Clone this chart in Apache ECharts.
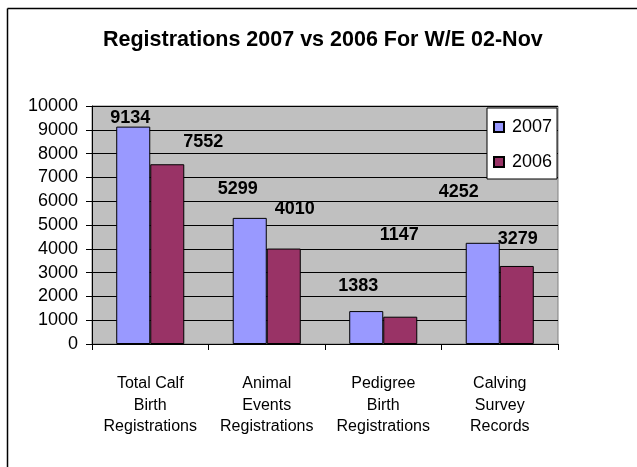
<!DOCTYPE html>
<html>
<head>
<meta charset="utf-8">
<script src="https://cdn.jsdelivr.net/npm/echarts@6/dist/echarts.min.js"></script>
<style>
html,body{margin:0;padding:0;background:#fff;}
#c{width:637px;height:467px;}
</style>
</head>
<body>
<div id="c"></div>
<script>
var titleText = 'Registrations 2007 vs 2006 For W/E 02-Nov';
var categories = ['Total Calf\nBirth\nRegistrations', 'Animal\nEvents\nRegistrations', 'Pedigree\nBirth\nRegistrations', 'Calving\nSurvey\nRecords'];
var seriesNames = ['2007', '2006'];
var values2007 = [9134, 5299, 1383, 4252];
var values2006 = [7552, 4010, 1147, 3279];
var yTicks = {min: 0, max: 10000, interval: 1000};
// label placement offsets (style only, in pixels)
var labelOffsets2007 = [[-3, 0], [-12, -20], [-8, -16.5], [-24, -42]];
var labelOffsets2006 = [[36, -13], [11, -30.6], [-1, -72.7], [1, -17.5]];

var FONT = "'Liberation Sans', Arial, Helvetica, sans-serif";
var chart = echarts.init(document.getElementById('c'), null, {renderer: 'canvas'});

function buildData(vals, offs) {
  return vals.map(function (v, i) {
    return {value: v, label: {offset: offs[i]}};
  });
}

var option = {
  animation: false,
  backgroundColor: '#ffffff',
  title: {
    text: titleText,
    left: 103,
    top: 29,
    padding: 0,
    textStyle: {fontFamily: FONT, fontSize: 21.5, fontWeight: 'bold', color: '#000', lineHeight: 22}
  },
  graphic: [
    {type: 'line', shape: {x1: 7.5, y1: 8.5, x2: 637, y2: 8.5}, style: {stroke: '#000', lineWidth: 1.5}, z: 100},
    {type: 'line', shape: {x1: 7.5, y1: 8.5, x2: 7.5, y2: 467}, style: {stroke: '#000', lineWidth: 1.5}, z: 100}
  ],
  legend: {
    orient: 'vertical',
    left: 487,
    top: 108,
    padding: [10, 5, 8, 6],
    itemGap: 17,
    itemWidth: 10,
    itemHeight: 10,
    icon: 'rect',
    backgroundColor: '#ffffff',
    borderColor: '#000',
    borderWidth: 1,
    borderRadius: 0,
    textStyle: {fontFamily: FONT, fontSize: 18, color: '#000', lineHeight: 18, padding: [0, 0, 0, 3]},
    data: seriesNames,
    z: 20
  },
  grid: {
    left: 92, right: 79, top: 106, bottom: 123,
    show: true,
    backgroundColor: '#c0c0c0',
    borderColor: '#808080',
    borderWidth: 1,
    containLabel: false
  },
  xAxis: {
    type: 'category',
    data: categories,
    axisLine: {lineStyle: {color: '#000', width: 1}},
    axisTick: {show: true, alignWithLabel: false, length: 6, lineStyle: {color: '#000'}},
    axisLabel: {fontFamily: FONT, fontSize: 16, color: '#000', lineHeight: 21.5, margin: 29, interval: 0},
    splitLine: {show: false}
  },
  yAxis: {
    type: 'value',
    min: yTicks.min, max: yTicks.max, interval: yTicks.interval,
    axisLine: {show: true, lineStyle: {color: '#000', width: 1}},
    axisTick: {show: true, length: 6, lineStyle: {color: '#000'}},
    axisLabel: {fontFamily: FONT, fontSize: 18, color: '#000', margin: 14, formatter: function (v) { return String(v); }},
    splitLine: {show: true, lineStyle: {color: '#000', width: 1}}
  },
  series: [
    {
      name: seriesNames[0],
      type: 'bar',
      data: buildData(values2007, labelOffsets2007),
      barGap: '0%',
      barCategoryGap: '41.6%',
      itemStyle: {color: '#9999ff', borderColor: '#000', borderWidth: 1},
      label: {show: true, position: 'top', distance: 0, fontFamily: FONT, fontSize: 18, fontWeight: 'bold', color: '#000', lineHeight: 18}
    },
    {
      name: seriesNames[1],
      type: 'bar',
      data: buildData(values2006, labelOffsets2006),
      barGap: '0%',
      barCategoryGap: '41.6%',
      itemStyle: {color: '#993366', borderColor: '#000', borderWidth: 1},
      label: {show: true, position: 'top', distance: 0, fontFamily: FONT, fontSize: 18, fontWeight: 'bold', color: '#000', lineHeight: 18}
    }
  ]
};
chart.setOption(option);
</script>
</body>
</html>
